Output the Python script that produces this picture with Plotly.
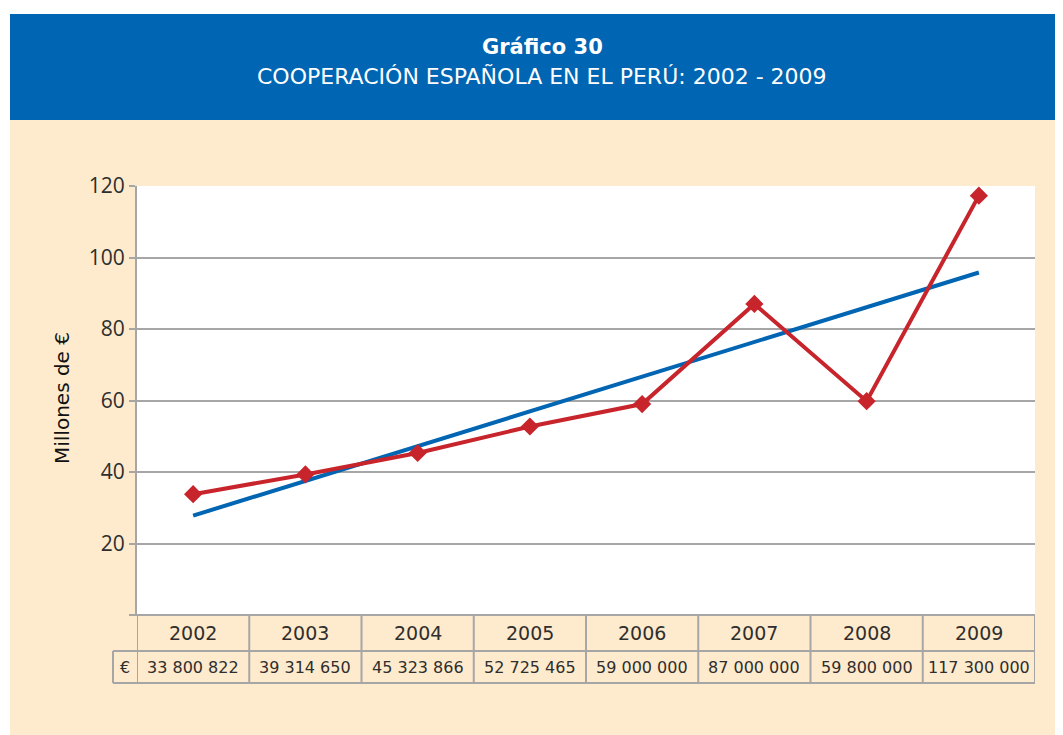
import plotly.graph_objects as go

years = ["2002", "2003", "2004", "2005", "2006", "2007", "2008", "2009"]
values_millions = [33.8, 39.31, 45.32, 52.73, 59.0, 87.0, 59.8, 117.3]
values_text = ["33 800 822", "39 314 650", "45 323 866", "52 725 465",
               "59 000 000", "87 000 000", "59 800 000", "117 300 000"]
trend_years = ["2002", "2009"]
trend_values = [27.8, 95.8]
y_ticks = [0, 20, 40, 60, 80, 100, 120]
y_ticktext = ["", "20", "40", "60", "80", "100", "120"]

BLUE = "#0065B2"
RED = "#C8242C"
BEIGE = "#FEEACC"
GRID = "#A6A6A6"
TXT = "#2e2e2e"
FONT = "DejaVu Sans"

# page is offset by the 8px body margin
OFF = 8
PAGE_W, PAGE_H = 1063, 735
W, H = PAGE_W - OFF, PAGE_H - OFF
PLOT_L, PLOT_R, PLOT_T, PLOT_B = 137, 1035, 186, 615   # page pixels
L, R, T, B = PLOT_L - OFF, PAGE_W - PLOT_R, PLOT_T - OFF, PAGE_H - PLOT_B
PW, PH = W - L - R, H - T - B


def px(xp):
    return (xp - PLOT_L) / PW


def py(yp):
    return (PLOT_B - yp) / PH


fig = go.Figure()

fig.add_trace(go.Scatter(
    x=trend_years, y=trend_values, mode="lines",
    line=dict(color=BLUE, width=4), hoverinfo="skip", showlegend=False))

fig.add_trace(go.Scatter(
    x=years, y=values_millions, mode="lines+markers",
    line=dict(color=RED, width=4),
    marker=dict(symbol="diamond", size=14, color=RED),
    showlegend=False))

shapes = []
shapes.append(dict(type="rect", xref="paper", yref="paper",
                   x0=px(0), x1=px(PAGE_W + 5), y0=py(14), y1=py(-5),
                   fillcolor="white", line_width=0, layer="below"))
shapes.append(dict(type="rect", xref="paper", yref="paper",
                   x0=px(-5), x1=px(10), y0=py(PAGE_H + 5), y1=py(-5),
                   fillcolor="white", line_width=0, layer="below"))
shapes.append(dict(type="rect", xref="paper", yref="paper",
                   x0=px(10), x1=px(PAGE_W + 5), y0=py(120), y1=py(14),
                   fillcolor=BLUE, line_width=0, layer="below"))

row_mid = py(651)
row_bot = py(683)
euro_left = px(113)
n = len(years)
shapes.append(dict(type="line", xref="paper", yref="paper",
                   x0=px(131), x1=1, y0=0, y1=0,
                   line=dict(color=GRID, width=2)))
shapes.append(dict(type="line", xref="paper", yref="paper",
                   x0=euro_left, x1=1, y0=row_mid, y1=row_mid,
                   line=dict(color=GRID, width=2)))
shapes.append(dict(type="line", xref="paper", yref="paper",
                   x0=euro_left, x1=1, y0=row_bot, y1=row_bot,
                   line=dict(color=GRID, width=2)))
shapes.append(dict(type="line", xref="paper", yref="paper",
                   x0=euro_left, x1=euro_left, y0=row_bot, y1=row_mid,
                   line=dict(color=GRID, width=2)))
for i in range(n + 1):
    shapes.append(dict(type="line", xref="x", yref="paper",
                       x0=i - 0.5, x1=i - 0.5, y0=row_bot, y1=0,
                       line=dict(color=GRID, width=2)))

annotations = []
for i, (yr, vt) in enumerate(zip(years, values_text)):
    annotations.append(dict(x=i, y=(0 + row_mid) / 2, xref="x", yref="paper",
                            text=yr, showarrow=False, xanchor="center", yanchor="middle",
                            font=dict(family=FONT, size=19, color=TXT)))
    annotations.append(dict(x=i, y=(row_mid + row_bot) / 2, xref="x", yref="paper",
                            text=vt, showarrow=False, xanchor="center", yanchor="middle",
                            font=dict(family=FONT, size=16, color=TXT)))
annotations.append(dict(x=px(125), y=(row_mid + row_bot) / 2,
                        xref="paper", yref="paper", text="€", showarrow=False,
                        xanchor="center", yanchor="middle",
                        font=dict(family=FONT, size=16, color=TXT)))

annotations.append(dict(x=px(542), y=py(47), xref="paper", yref="paper",
                        text="<b>Gráfico 30</b>", showarrow=False,
                        xanchor="center", yanchor="middle",
                        font=dict(family=FONT, size=21, color="white")))
annotations.append(dict(x=px(542), y=py(76), xref="paper", yref="paper",
                        text="COOPERACIÓN ESPAÑOLA EN EL PERÚ: 2002 - 2009",
                        showarrow=False, xanchor="center", yanchor="middle",
                        font=dict(family=FONT, size=22, color="white")))
annotations.append(dict(x=px(62), y=py(398), xref="paper", yref="paper",
                        text="Millones de €", textangle=-90, showarrow=False,
                        xanchor="center", yanchor="middle",
                        font=dict(family=FONT, size=20, color="#111")))

fig.update_layout(
    width=W, height=H,
    margin=dict(l=L, r=R, t=T, b=B, pad=0),
    paper_bgcolor=BEIGE, plot_bgcolor="white",
    shapes=shapes, annotations=annotations,
    xaxis=dict(type="category", categoryorder="array", categoryarray=years,
               range=[-0.5, n - 0.5], showgrid=False,
               showticklabels=False, zeroline=False, showline=False, ticks=""),
    yaxis=dict(range=[0, 120], tickvals=y_ticks, ticktext=y_ticktext,
               showgrid=True, gridcolor=GRID, gridwidth=1.5,
               zeroline=False, showline=True, linecolor=GRID, linewidth=2,
               ticks="outside", ticklen=6, tickcolor=GRID, tickwidth=1.5,
               tickfont=dict(family="Open Sans", size=21, color=TXT)),
)

fig.write_html("out.html")
